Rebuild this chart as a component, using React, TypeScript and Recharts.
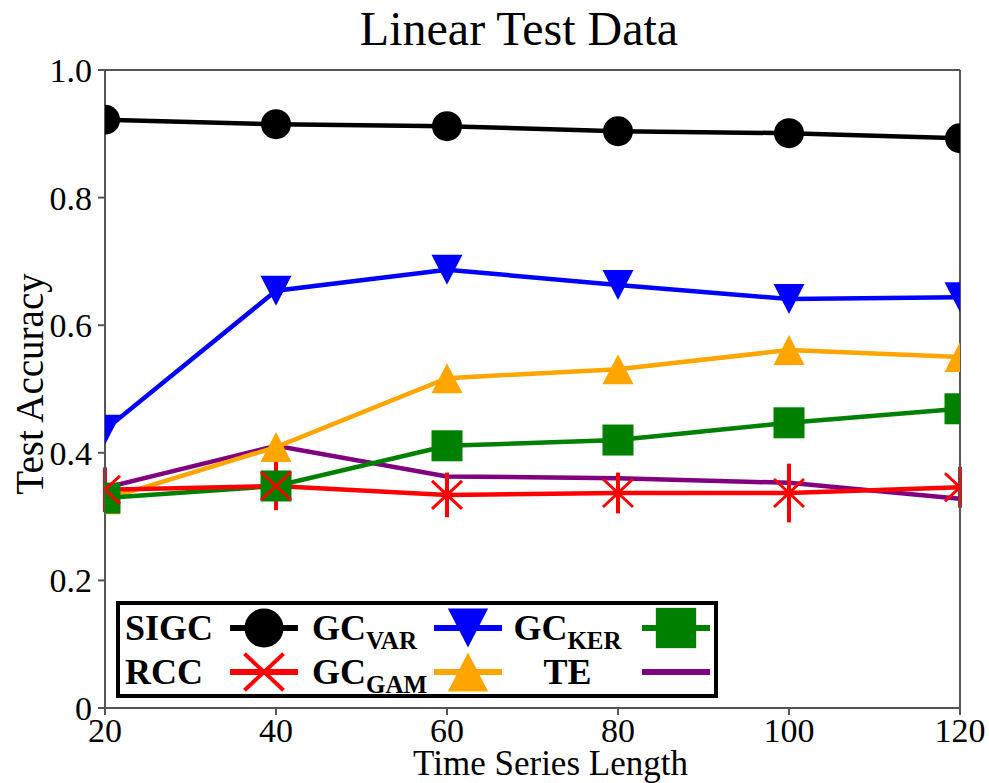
import { LineChart, Line, XAxis, YAxis, ErrorBar, Legend, Label, ReferenceLine } from 'recharts'

// Test accuracy against time series length
const LENGTHS = [20, 40, 60, 80, 100, 120]
const SIGC = [0.922, 0.915, 0.912, 0.904, 0.901, 0.893]
const GC_VAR = [0.436, 0.654, 0.687, 0.663, 0.641, 0.644]
const GC_KER = [0.329, 0.348, 0.411, 0.42, 0.447, 0.469]
const RCC = [0.342, 0.348, 0.334, 0.337, 0.337, 0.346]
const RCC_ERR = [0.035, 0.038, 0.035, 0.032, 0.046, 0.032]
const GC_GAM = [0.327, 0.409, 0.517, 0.531, 0.561, 0.55]
const TE = [0.345, 0.411, 0.363, 0.36, 0.353, 0.328]
const Y_TICKS = [0, 0.2, 0.4, 0.6, 0.8, 1.0]

const FONT = '"Liberation Serif", "Times New Roman", serif'
const GREY = '#555555'

type Shape = 'circle' | 'down' | 'up' | 'square' | 'x' | 'none'

interface Series {
  key: string
  name: string
  sub: string
  color: string
  shape: Shape
  row: number
  col: number
}

// drawing order: later ones sit on top
const SERIES: Series[] = [
  { key: 'sigc', name: 'SIGC', sub: '', color: '#000000', shape: 'circle', row: 0, col: 0 },
  { key: 'gcVar', name: 'GC', sub: 'VAR', color: '#0000ff', shape: 'down', row: 0, col: 1 },
  { key: 'te', name: 'TE', sub: '', color: '#800080', shape: 'none', row: 1, col: 2 },
  { key: 'gcGam', name: 'GC', sub: 'GAM', color: '#ffa500', shape: 'up', row: 1, col: 1 },
  { key: 'gcKer', name: 'GC', sub: 'KER', color: '#008000', shape: 'square', row: 0, col: 2 },
  { key: 'rcc', name: 'RCC', sub: '', color: '#ff0000', shape: 'x', row: 1, col: 0 },
]

const data = LENGTHS.map((len, i) => ({
  len,
  sigc: SIGC[i],
  gcVar: GC_VAR[i],
  gcKer: GC_KER[i],
  rcc: RCC[i],
  rccErr: RCC_ERR[i],
  gcGam: GC_GAM[i],
  te: TE[i],
}))

function Marker({ shape, cx, cy, color, s = 1 }: { shape: Shape; cx: number; cy: number; color: string; s?: number }) {
  if (shape === 'circle') return <circle cx={cx} cy={cy} r={15 * s} fill={color} />
  if (shape === 'square') {
    const h = 15.5 * s
    return <rect x={cx - h} y={cy - h} width={2 * h} height={2 * h} fill={color} />
  }
  if (shape === 'up' || shape === 'down') {
    const w = 15.5 * s
    const h = 15 * s
    const d = shape === 'up' ? 1 : -1
    const pts = `${cx},${cy - d * h} ${cx - w},${cy + d * h} ${cx + w},${cy + d * h}`
    return <polygon points={pts} fill={color} />
  }
  if (shape === 'x') {
    const w = 15 * s
    const h = 14 * s
    return (
      <g stroke={color} strokeWidth={3 * s}>
        <line x1={cx - w} y1={cy - h} x2={cx + w} y2={cy + h} />
        <line x1={cx - w} y1={cy + h} x2={cx + w} y2={cy - h} />
      </g>
    )
  }
  return null
}

const TEXT_COLS = [
  { left: 5, width: 110, align: 'left' as const },
  { left: 192, width: 125, align: 'left' as const },
  { left: 391, width: 113, align: 'center' as const },
]
const MARK_COLS = [110, 314, 522]
const ROWS = [23, 67]

function LegendBox() {
  return (
    <div
      style={{
        position: 'relative',
        width: 602,
        height: 97,
        boxSizing: 'border-box',
        border: '4px solid #000',
        background: '#fff',
        fontFamily: FONT,
        fontWeight: 'bold',
        color: '#000',
      }}
    >
      {SERIES.map((s) => {
        const tc = TEXT_COLS[s.col]
        const top = ROWS[s.row] - 22
        return (
          <div key={s.key}>
            <div
              style={{
                position: 'absolute',
                left: tc.left,
                top,
                width: tc.width,
                height: 44,
                lineHeight: '44px',
                fontSize: 36,
                textAlign: tc.align,
                whiteSpace: 'nowrap',
              }}
            >
              {s.name}
              {s.sub && <span style={{ fontSize: 25, position: 'relative', top: 9 }}>{s.sub}</span>}
            </div>
            <svg style={{ position: 'absolute', left: MARK_COLS[s.col], top }} width={68} height={44}>
              <line x1={0} y1={22} x2={68} y2={22} stroke={s.color} strokeWidth={6} />
              <Marker shape={s.shape} cx={34} cy={22} color={s.color} s={1.3} />
            </svg>
          </div>
        )
      })}
    </div>
  )
}

const tickStyle = { fill: '#000', fontSize: 34, fontFamily: FONT }

export default function App() {
  return (
    <div style={{ position: 'absolute', left: 0, top: 0, width: 989, height: 783, background: '#fff' }}>
      <div
        style={{
          position: 'absolute',
          left: 0,
          top: 5,
          width: 1038,
          textAlign: 'center',
          fontFamily: FONT,
          fontSize: 48,
          lineHeight: '48px',
          color: '#000',
        }}
      >
        Linear Test Data
      </div>
      <LineChart width={989} height={783} data={data} margin={{ top: 70, right: 29, bottom: 0, left: 0 }}>
        <XAxis
          dataKey="len"
          type="number"
          domain={[20, 120]}
          ticks={LENGTHS}
          interval={0}
          allowDataOverflow
          height={75}
          tickSize={7}
          tickMargin={3}
          axisLine={{ stroke: GREY, strokeWidth: 2 }}
          tickLine={{ stroke: GREY, strokeWidth: 2 }}
          tick={tickStyle}
        >
          <Label
            value="Time Series Length"
            position="insideBottom"
            offset={8}
            dx={18}
            style={{ fontSize: 35, fontFamily: FONT, fill: '#000' }}
          />
        </XAxis>
        <YAxis
          type="number"
          domain={[0, 1]}
          ticks={Y_TICKS}
          interval={0}
          allowDataOverflow
          width={105}
          tickSize={7}
          tickMargin={6}
          tickFormatter={(v: number) => (v === 0 ? '0' : v.toFixed(1))}
          axisLine={{ stroke: GREY, strokeWidth: 2 }}
          tickLine={{ stroke: GREY, strokeWidth: 2 }}
          tick={tickStyle}
        >
          <Label
            value="Test Accuracy"
            angle={-90}
            position="insideLeft"
            offset={29}
            dy={-5}
            style={{ fontSize: 39, fontFamily: FONT, fill: '#000', textAnchor: 'middle' }}
          />
        </YAxis>
        {SERIES.map((s) => (
          <Line
            key={s.key}
            dataKey={s.key}
            name={s.key}
            type="linear"
            stroke={s.color}
            strokeWidth={4.5}
            isAnimationActive={false}
            activeDot={false}
            dot={
              s.shape === 'none'
                ? false
                : (p: any) => <Marker key={`${s.key}-${p.index}`} shape={s.shape} cx={p.cx} cy={p.cy} color={s.color} />
            }
          >
            {s.key === 'rcc' && (
              <ErrorBar dataKey="rccErr" direction="y" width={0} stroke={s.color} strokeWidth={4} isAnimationActive={false} />
            )}
          </Line>
        ))}
        {/* box frame: top and right edges */}
        <ReferenceLine y={1} stroke={GREY} strokeWidth={2} ifOverflow="extendDomain" />
        <ReferenceLine x={120} stroke={GREY} strokeWidth={2} ifOverflow="extendDomain" />
        <Legend
          layout="vertical"
          align="center"
          verticalAlign="middle"
          content={() => <LegendBox />}
          wrapperStyle={{ left: 116, top: 601, width: 602, height: 97 }}
        />
      </LineChart>
    </div>
  )
}
